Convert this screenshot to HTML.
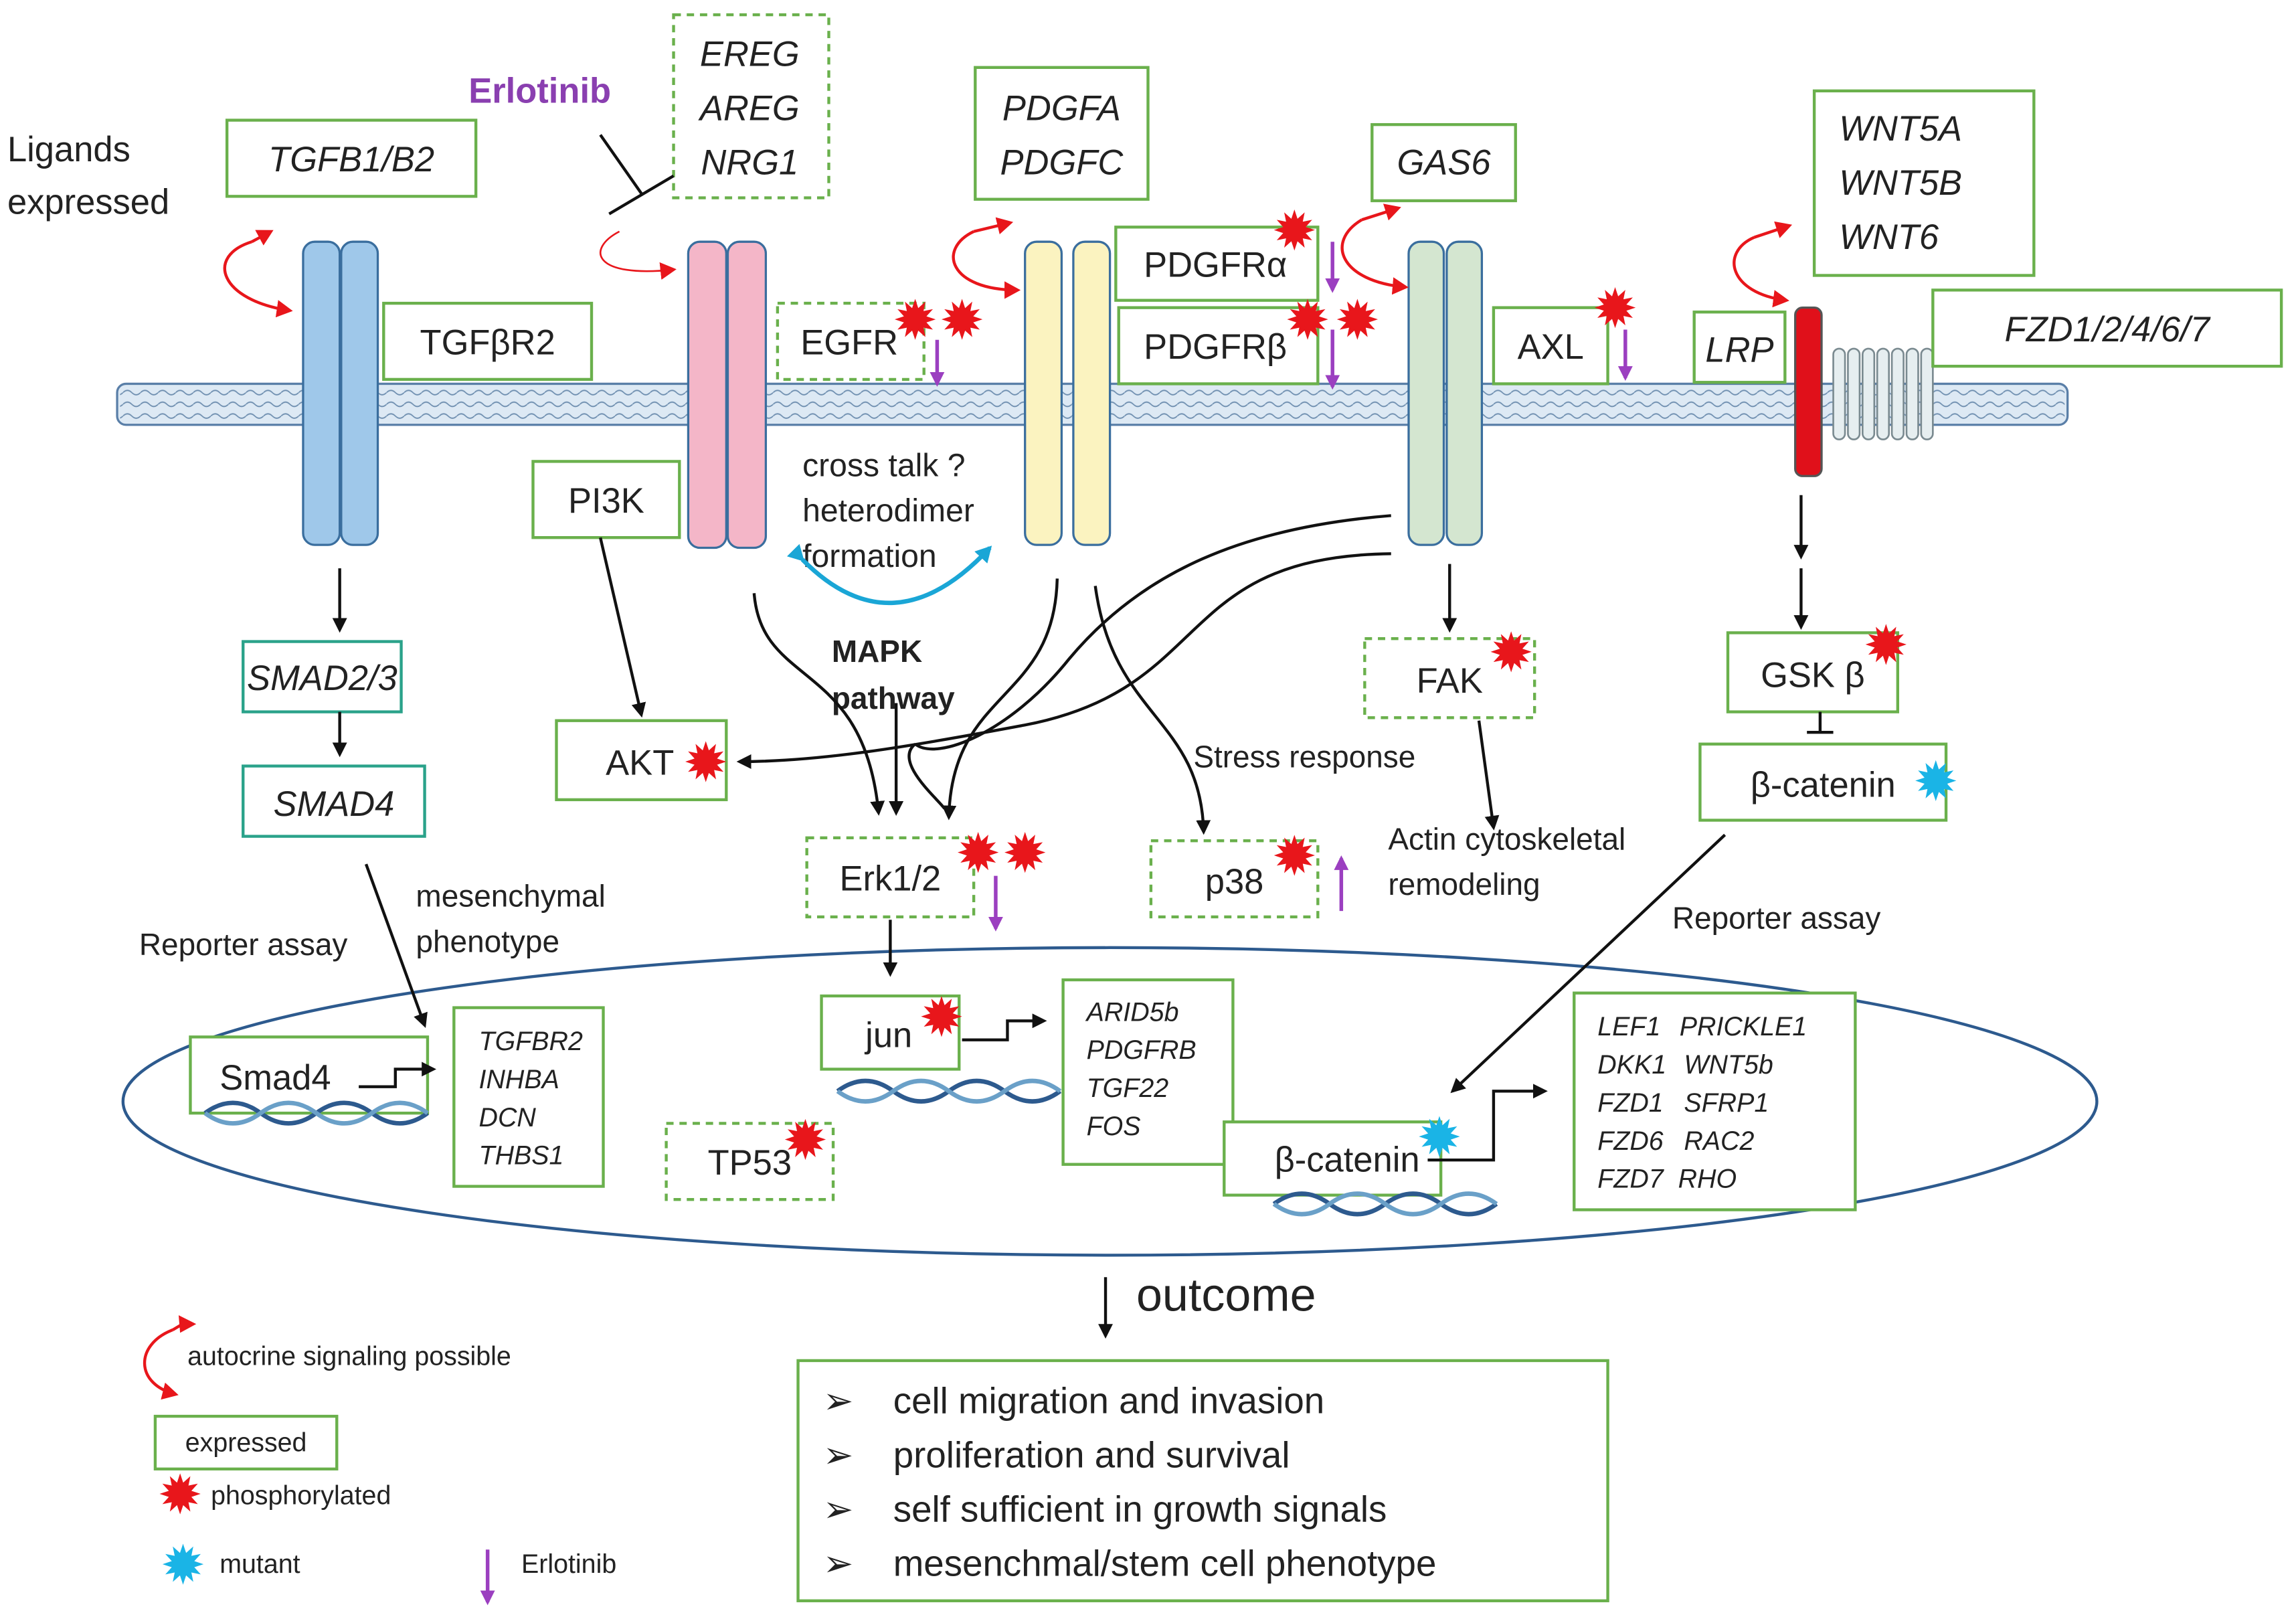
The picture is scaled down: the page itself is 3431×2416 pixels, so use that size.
<!DOCTYPE html>
<html><head><meta charset="utf-8"><style>
html,body{margin:0;padding:0;background:#fff}
svg{display:block}
text{font-family:"Liberation Sans",sans-serif;fill:#222}
.b{fill:#fff;stroke:#6ab04c;stroke-width:2}
.d{fill:#fff;stroke:#6ab04c;stroke-width:2;stroke-dasharray:5,4}
.t{fill:#fff;stroke:#2aa28a;stroke-width:2}
.l{font-size:24px}
.i{font-style:italic}
.k{stroke:#111;stroke-width:2;fill:none}
.r{stroke:#e8161b;stroke-width:2;fill:none}
.p{stroke:#9b3fc0;stroke-width:2.5;fill:none}
</style></head><body>
<svg width="3431" height="2416" viewBox="0 0 1568 1104" xmlns="http://www.w3.org/2000/svg">
<defs>
<symbol id="st" viewBox="-15 -15 30 30" overflow="visible"><polygon points="14,0 7.7,2.1 12.1,7 5.7,5.7 7,12.1 2.1,7.7 0,14 -2.1,7.7 -7,12.1 -5.7,5.7 -12.1,7 -7.7,2.1 -14,0 -7.7,-2.1 -12.1,-7 -5.7,-5.7 -7,-12.1 -2.1,-7.7 0,-14 2.1,-7.7 7,-12.1 5.7,-5.7 12.1,-7 7.7,-2.1"/></symbol>
<marker id="ak" markerWidth="10" markerHeight="10" refX="8" refY="5" orient="auto" markerUnits="userSpaceOnUse"><path d="M0,0 L10,5 L0,10 z" fill="#111"/></marker>
<marker id="ar" markerWidth="12" markerHeight="12" refX="9" refY="6" orient="auto" markerUnits="userSpaceOnUse"><path d="M0,0 L11,6 L0,12 z" fill="#e8161b"/></marker>
<marker id="ap" markerWidth="10" markerHeight="10" refX="8" refY="5" orient="auto" markerUnits="userSpaceOnUse"><path d="M0,0 L10,5 L0,10 z" fill="#9b3fc0"/></marker>
<marker id="ac" markerWidth="12" markerHeight="12" refX="9" refY="6" orient="auto" markerUnits="userSpaceOnUse"><path d="M0,0 L11,6 L0,12 z" fill="#1aa6d6"/></marker>
<pattern id="wv" width="12" height="8" patternUnits="userSpaceOnUse"><path d="M0,4 q3,-3 6,0 t6,0" stroke="#6f8fb0" stroke-width="0.8" fill="none"/></pattern>
</defs>

<!-- nucleus -->
<ellipse cx="758" cy="752" rx="674" ry="105" fill="none" stroke="#2d5a8e" stroke-width="2"/>

<!-- membrane -->
<rect x="80" y="262" width="1332" height="28" rx="6" fill="#dde9f4" stroke="#5a7fa8" stroke-width="1.5"/>
<rect x="82" y="264" width="1328" height="24" fill="url(#wv)"/>

<!-- receptors -->
<g stroke="#3a6e9e" stroke-width="1.5">
<rect x="207" y="165" width="25" height="207" rx="8" fill="#9fc8ea"/>
<rect x="233" y="165" width="25" height="207" rx="8" fill="#9fc8ea"/>
<rect x="470" y="165" width="26" height="209" rx="8" fill="#f4b6c8"/>
<rect x="497" y="165" width="26" height="209" rx="8" fill="#f4b6c8"/>
<rect x="700" y="165" width="25" height="207" rx="8" fill="#fbf3c0"/>
<rect x="733" y="165" width="25" height="207" rx="8" fill="#fbf3c0"/>
<rect x="962" y="165" width="24" height="207" rx="8" fill="#d4e6d0"/>
<rect x="988" y="165" width="24" height="207" rx="8" fill="#d4e6d0"/>
</g>
<rect x="1226" y="210" width="18" height="115" rx="5" fill="#e0101a" stroke="#555" stroke-width="1.5"/>
<g fill="#e6eef0" stroke="#7a8a90" stroke-width="1.2">
<rect x="1252" y="238" width="8" height="62" rx="4"/><rect x="1262" y="238" width="8" height="62" rx="4"/>
<rect x="1272" y="238" width="8" height="62" rx="4"/><rect x="1282" y="238" width="8" height="62" rx="4"/>
<rect x="1292" y="238" width="8" height="62" rx="4"/><rect x="1302" y="238" width="8" height="62" rx="4"/>
<rect x="1312" y="238" width="8" height="62" rx="4"/>
</g>

<!-- top texts -->
<text x="5" y="110" class="l">Ligands</text>
<text x="5" y="146" class="l">expressed</text>
<text x="320" y="70" style="font-size:24px;font-weight:bold;fill:#8a3fb0">Erlotinib</text>

<!-- boxes -->
<rect class="b" x="155" y="82" width="170" height="52"/><text x="240" y="117" class="l i" text-anchor="middle">TGFB1/B2</text>
<rect class="d" x="460" y="10" width="106" height="125"/>
<text x="512" y="45" class="l i" text-anchor="middle">EREG</text><text x="512" y="82" class="l i" text-anchor="middle">AREG</text><text x="512" y="119" class="l i" text-anchor="middle">NRG1</text>
<rect class="b" x="666" y="46" width="118" height="90"/>
<text x="725" y="82" class="l i" text-anchor="middle">PDGFA</text><text x="725" y="119" class="l i" text-anchor="middle">PDGFC</text>
<rect class="b" x="937" y="85" width="98" height="52"/><text x="986" y="119" class="l i" text-anchor="middle">GAS6</text>
<rect class="b" x="1239" y="62" width="150" height="126"/>
<text x="1256" y="96" class="l i">WNT5A</text><text x="1256" y="133" class="l i">WNT5B</text><text x="1256" y="170" class="l i">WNT6</text>
<rect class="b" x="262" y="207" width="142" height="52"/><text x="333" y="242" class="l" text-anchor="middle">TGFβR2</text>
<rect class="d" x="531" y="207" width="100" height="52"/><text x="580" y="242" class="l" text-anchor="middle">EGFR</text>
<rect class="b" x="762" y="155" width="138" height="50"/><text x="830" y="189" class="l" text-anchor="middle">PDGFRα</text>
<rect class="b" x="764" y="210" width="136" height="52"/><text x="830" y="245" class="l" text-anchor="middle">PDGFRβ</text>
<rect class="b" x="1020" y="210" width="78" height="52"/><text x="1059" y="245" class="l" text-anchor="middle">AXL</text>
<rect class="b" x="1157" y="213" width="62" height="48"/><text x="1188" y="247" class="l i" text-anchor="middle">LRP</text>
<rect class="b" x="1320" y="198" width="238" height="52"/><text x="1439" y="233" class="l i" text-anchor="middle">FZD1/2/4/6/7</text>
<rect class="b" x="364" y="315" width="100" height="52"/><text x="414" y="350" class="l" text-anchor="middle">PI3K</text>
<rect class="t" x="166" y="438" width="108" height="48"/><text x="220" y="471" class="l i" text-anchor="middle">SMAD2/3</text>
<rect class="t" x="166" y="523" width="124" height="48"/><text x="228" y="557" class="l i" text-anchor="middle">SMAD4</text>
<rect class="b" x="380" y="492" width="116" height="54"/><text x="437" y="529" class="l" text-anchor="middle">AKT</text>
<rect class="d" x="932" y="436" width="116" height="54"/><text x="990" y="473" class="l" text-anchor="middle">FAK</text>
<rect class="b" x="1180" y="432" width="116" height="54"/><text x="1238" y="469" class="l" text-anchor="middle">GSK β</text>
<rect class="b" x="1161" y="508" width="168" height="52"/><text x="1245" y="544" class="l" text-anchor="middle">β-catenin</text>
<rect class="d" x="551" y="572" width="114" height="54"/><text x="608" y="608" class="l" text-anchor="middle">Erk1/2</text>
<rect class="d" x="786" y="574" width="114" height="52"/><text x="843" y="610" class="l" text-anchor="middle">p38</text>
<rect class="b" x="130" y="708" width="162" height="52"/><text x="188" y="744" class="l" text-anchor="middle">Smad4</text>
<rect class="b" x="310" y="688" width="102" height="122"/>
<g style="font-size:18px;font-style:italic"><text x="327" y="717">TGFBR2</text><text x="327" y="743">INHBA</text><text x="327" y="769">DCN</text><text x="327" y="795">THBS1</text></g>
<rect class="b" x="561" y="680" width="94" height="50"/><text x="607" y="715" class="l" text-anchor="middle">jun</text>
<rect class="b" x="726" y="669" width="116" height="126"/>
<g style="font-size:18px;font-style:italic"><text x="742" y="697">ARID5b</text><text x="742" y="723">PDGFRB</text><text x="742" y="749">TGF22</text><text x="742" y="775">FOS</text></g>
<rect class="d" x="455" y="767" width="114" height="52"/><text x="512" y="802" class="l" text-anchor="middle">TP53</text>
<rect class="b" x="836" y="766" width="148" height="50"/><text x="920" y="800" class="l" text-anchor="middle">β-catenin</text>
<rect class="b" x="1075" y="678" width="192" height="148"/>
<g style="font-size:18px;font-style:italic"><text x="1091" y="707">LEF1</text><text x="1147" y="707">PRICKLE1</text>
<text x="1091" y="733">DKK1</text><text x="1150" y="733">WNT5b</text>
<text x="1091" y="759">FZD1</text><text x="1150" y="759">SFRP1</text>
<text x="1091" y="785">FZD6</text><text x="1150" y="785">RAC2</text>
<text x="1091" y="811">FZD7</text><text x="1146" y="811">RHO</text></g>

<!-- DNA helices -->
<g stroke-width="3" fill="none">
<path d="M140,760 q19,-14 38,0 t38,0 t38,0 t38,0" stroke="#2d5a8e"/><path d="M140,760 q19,14 38,0 t38,0 t38,0 t38,0" stroke="#6aa0c8"/>
<path d="M572,745 q19,-14 38,0 t38,0 t38,0 t38,0" stroke="#2d5a8e"/><path d="M572,745 q19,14 38,0 t38,0 t38,0 t38,0" stroke="#6aa0c8"/>
<path d="M870,822 q19,-14 38,0 t38,0 t38,0 t38,0" stroke="#2d5a8e"/><path d="M870,822 q19,14 38,0 t38,0 t38,0 t38,0" stroke="#6aa0c8"/>
</g>

<!-- middle texts -->
<text x="548" y="325" style="font-size:22px">cross talk ?</text>
<text x="548" y="356" style="font-size:22px">heterodimer</text>
<text x="548" y="387" style="font-size:22px">formation</text>
<text x="568" y="452" style="font-size:21px;font-weight:bold">MAPK</text>
<text x="568" y="484" style="font-size:21px;font-weight:bold">pathway</text>
<text x="815" y="524" style="font-size:21px">Stress response</text>
<text x="948" y="580" style="font-size:21px">Actin cytoskeletal</text>
<text x="948" y="611" style="font-size:21px">remodeling</text>
<text x="1142" y="634" style="font-size:21px">Reporter assay</text>
<text x="95" y="652" style="font-size:21px">Reporter assay</text>
<text x="284" y="619" style="font-size:21px">mesenchymal</text>
<text x="284" y="650" style="font-size:21px">phenotype</text>
<text x="776" y="895" style="font-size:32px">outcome</text>

<!-- outcome box -->
<rect class="b" x="545" y="929" width="553" height="164"/>
<g style="font-size:25px"><text x="562" y="965">➢</text><text x="610" y="965">cell migration and invasion</text>
<text x="562" y="1002">➢</text><text x="610" y="1002">proliferation and survival</text>
<text x="562" y="1039">➢</text><text x="610" y="1039">self sufficient in growth signals</text>
<text x="562" y="1076">➢</text><text x="610" y="1076">mesenchmal/stem cell phenotype</text></g>

<!-- legend -->
<path class="r" d="M118,908 C92,918 92,945 120,952" marker-end="url(#ar)"/>
<path class="r" d="M118,908 L128,902"/>
<path d="M122,898 l12,6 l-11,6z" fill="#e8161b"/>
<text x="128" y="932" style="font-size:18px">autocrine signaling possible</text>
<rect class="b" x="106" y="967" width="124" height="36"/><text x="168" y="991" style="font-size:18px" text-anchor="middle">expressed</text>
<text x="144" y="1027" style="font-size:18px">phosphorylated</text>
<text x="150" y="1074" style="font-size:18px">mutant</text>
<text x="356" y="1074" style="font-size:18px">Erlotinib</text>
<line class="p" x1="333" y1="1058" x2="333" y2="1094" marker-end="url(#ap)"/>

<!-- red autocrine arrows -->
<path class="r" d="M172,165 C140,175 150,205 198,212" marker-end="url(#ar)"/><path class="r" d="M172,165 L185,158" marker-end="url(#ar)"/>
<path d="M423,158 C400,170 405,190 460,184" stroke="#e8161b" stroke-width="1.2" fill="none" marker-end="url(#ar)"/>
<path class="r" d="M665,158 C640,170 648,198 695,198" marker-end="url(#ar)"/><path class="r" d="M665,158 L690,152" marker-end="url(#ar)"/>
<path class="r" d="M930,150 C905,165 915,192 960,196" marker-end="url(#ar)"/><path class="r" d="M930,150 L955,142" marker-end="url(#ar)"/>
<path class="r" d="M1198,162 C1175,172 1180,200 1220,205" marker-end="url(#ar)"/><path class="r" d="M1198,162 L1222,154" marker-end="url(#ar)"/>

<!-- Erlotinib inhibition -->
<line class="k" x1="410" y1="92" x2="438" y2="132"/><line class="k" x1="416" y1="146" x2="460" y2="120"/>

<!-- cyan arrow -->
<path d="M548,382 Q610,445 676,374" stroke="#1aa6d6" stroke-width="3" fill="none" marker-end="url(#ac)" marker-start="url(#ac)"/>

<!-- black connectors -->
<line class="k" x1="232" y1="388" x2="232" y2="430" marker-end="url(#ak)"/>
<line class="k" x1="232" y1="486" x2="232" y2="515" marker-end="url(#ak)"/>
<line class="k" x1="410" y1="367" x2="438" y2="488" marker-end="url(#ak)"/>
<line class="k" x1="990" y1="385" x2="990" y2="430" marker-end="url(#ak)"/>
<line class="k" x1="1230" y1="338" x2="1230" y2="380" marker-end="url(#ak)"/>
<line class="k" x1="1230" y1="388" x2="1230" y2="428" marker-end="url(#ak)"/>
<line class="k" x1="1243" y1="486" x2="1243" y2="500"/><line class="k" x1="1234" y1="500" x2="1252" y2="500"/>
<line class="k" x1="250" y1="590" x2="290" y2="700" marker-end="url(#ak)"/>
<line class="k" x1="1178" y1="570" x2="992" y2="745" marker-end="url(#ak)"/>
<line class="k" x1="1010" y1="492" x2="1020" y2="565" marker-end="url(#ak)"/>
<line class="k" x1="608" y1="628" x2="608" y2="665" marker-end="url(#ak)"/>
<line class="k" x1="755" y1="872" x2="755" y2="912" marker-end="url(#ak)"/>
<line class="k" x1="612" y1="480" x2="612" y2="555" marker-end="url(#ak)"/>
<path class="k" stroke-width="1.5" d="M515,405 C520,470 590,450 600,555" marker-end="url(#ak)"/>
<path class="k" stroke-width="1.5" d="M722,395 C720,480 650,470 648,558" marker-end="url(#ak)"/>
<path class="k" stroke-width="1.5" d="M748,400 C760,490 820,490 822,568" marker-end="url(#ak)"/>
<path class="k" stroke-width="1.5" d="M950,352 C850,360 780,390 730,450 C690,500 640,520 625,508" />
<path class="k" stroke-width="1.5" d="M625,508 C610,520 640,545 645,552"/>
<path class="k" stroke-width="1.5" d="M950,378 C800,380 830,470 700,495 C620,510 560,520 505,520" marker-end="url(#ak)"/>
<path class="k" d="M245,742 H270 V730 H296" marker-end="url(#ak)"/>
<path class="k" d="M657,710 H688 V697 H713" marker-end="url(#ak)"/>
<path class="k" d="M975,792 H1020 V745 H1055" marker-end="url(#ak)"/>

<!-- purple erlotinib arrows -->
<line class="p" x1="640" y1="232" x2="640" y2="262" marker-end="url(#ap)"/>
<line class="p" x1="910" y1="165" x2="910" y2="198" marker-end="url(#ap)"/>
<line class="p" x1="910" y1="225" x2="910" y2="264" marker-end="url(#ap)"/>
<line class="p" x1="1110" y1="225" x2="1110" y2="258" marker-end="url(#ap)"/>
<line class="p" x1="680" y1="598" x2="680" y2="634" marker-end="url(#ap)"/>
<line class="p" x1="916" y1="622" x2="916" y2="586" marker-end="url(#ap)"/>

<!-- stars -->
<g fill="#e8161b">
<use href="#st" x="610" y="203" width="30" height="30"/><use href="#st" x="642" y="203" width="30" height="30"/>
<use href="#st" x="869" y="142" width="30" height="30"/>
<use href="#st" x="878" y="203" width="30" height="30"/><use href="#st" x="912" y="203" width="30" height="30"/>
<use href="#st" x="1088" y="195" width="30" height="30"/>
<use href="#st" x="1273" y="425" width="30" height="30"/>
<use href="#st" x="467" y="505" width="30" height="30"/>
<use href="#st" x="1017" y="430" width="30" height="30"/>
<use href="#st" x="653" y="567" width="30" height="30"/><use href="#st" x="685" y="567" width="30" height="30"/>
<use href="#st" x="869" y="569" width="30" height="30"/>
<use href="#st" x="628" y="679" width="30" height="30"/>
<use href="#st" x="535" y="763" width="30" height="30"/>
<use href="#st" x="108" y="1005" width="30" height="30"/>
</g>
<g fill="#1ab4e6">
<use href="#st" x="1307" y="518" width="30" height="30"/>
<use href="#st" x="968" y="761" width="30" height="30"/>
<use href="#st" x="110" y="1053" width="30" height="30"/>
</g>
</svg>
</body></html>
